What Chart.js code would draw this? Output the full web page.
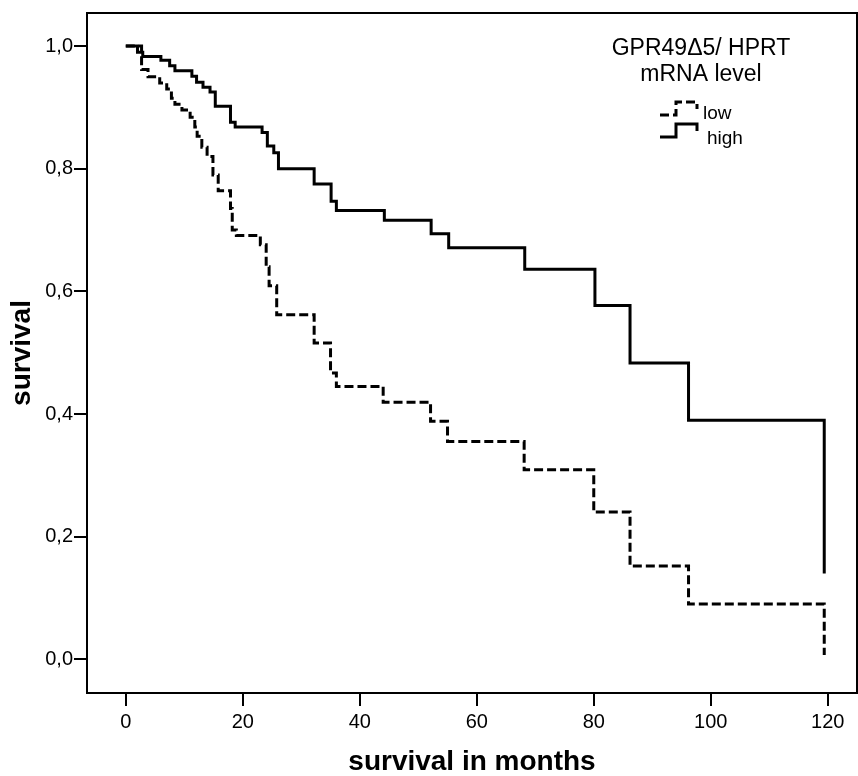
<!DOCTYPE html>
<html lang="en">
<head>
<meta charset="utf-8">
<script src="https://cdn.jsdelivr.net/npm/chart.js"></script>
<style>
  body { margin: 0; background: #fff; }
</style>
</head>
<body>
<canvas id="kmChart" width="858" height="776"></canvas>
<script>
    // Kaplan-Meier steps: month of each event and survival right after it
    const monthsLow = [0, 2.7, 3.8, 5.8, 7.0, 7.8, 8.4, 9.6, 11.0, 11.8, 12.2, 13.0, 13.9, 14.9, 15.8, 17.9, 18.2, 18.9, 23.0, 24.0, 24.5, 25.8, 32.2, 35.0, 36.0, 44.0, 52.1, 55.0, 68.1, 80.0, 86.2, 96.2, 119.4]
    const survivalLow = [1.0, 0.962, 0.950, 0.940, 0.930, 0.915, 0.905, 0.896, 0.884, 0.868, 0.853, 0.835, 0.820, 0.790, 0.764, 0.735, 0.700, 0.691, 0.676, 0.640, 0.609, 0.562, 0.516, 0.467, 0.445, 0.419, 0.388, 0.355, 0.309, 0.240, 0.152, 0.090, 0.007]

    const monthsHigh = [0, 2.0, 2.9, 6.0, 7.5, 8.4, 11.3, 12.1, 13.2, 14.4, 15.3, 17.9, 18.7, 23.3, 24.2, 25.3, 26.1, 32.2, 35.1, 36.0, 44.2, 52.2, 55.2, 68.2, 80.2, 86.2, 96.2, 119.4]
    const survivalHigh = [1.0, 0.990, 0.983, 0.977, 0.968, 0.960, 0.951, 0.941, 0.933, 0.925, 0.902, 0.876, 0.868, 0.859, 0.837, 0.826, 0.800, 0.775, 0.747, 0.732, 0.716, 0.694, 0.671, 0.636, 0.577, 0.483, 0.390, 0.140]

    const xTicks = [0, 20, 40, 60, 80, 100, 120]
    const yTicks = [0, 0.2, 0.4, 0.6, 0.8, 1.0]
    const groupNames = ['low', 'high']
    const legendTitle = ['GPR49Δ5/ HPRT', 'mRNA level']

    const FONT = "'Liberation Sans', Arial, sans-serif"

    function toPoints(xs, ys) {
      return xs.map((x, i) => ({ x: x, y: ys[i] }))
    }

    // box around the plot area (SPSS style)
    const framePlugin = {
      id: 'frame',
      afterDraw(chart) {
        const a = chart.chartArea
        const ctx = chart.ctx
        ctx.save()
        ctx.strokeStyle = '#000'
        ctx.lineWidth = 2
        ctx.strokeRect(a.left, a.top, a.right - a.left, a.bottom - a.top)
        ctx.restore()
      }
    }

    // legend drawn inside the plot, top right
    const legendPlugin = {
      id: 'kmLegend',
      afterDraw(chart) {
        const ctx = chart.ctx
        ctx.save()
        ctx.fillStyle = '#000'
        ctx.strokeStyle = '#000'
        ctx.textAlign = 'center'
        ctx.textBaseline = 'alphabetic'
        ctx.font = '23px ' + FONT
        ctx.fillText(legendTitle[0], 701, 55)
        ctx.fillText(legendTitle[1], 701, 81)

        const iconBottom = [115, 137]
        const textBase = [119, 144]
        const textX = [703, 707]
        ctx.textAlign = 'left'
        ctx.font = '19px ' + FONT
        chart.data.datasets.forEach((ds, i) => {
          const b = iconBottom[i]
          ctx.lineWidth = 3
          ctx.setLineDash(ds.borderDash || [])
          ctx.beginPath()
          ctx.moveTo(660, b)
          ctx.lineTo(676, b)
          ctx.lineTo(676, b - 13)
          ctx.lineTo(697, b - 13)
          ctx.lineTo(697, b - 6)
          ctx.stroke()
          ctx.setLineDash([])
          ctx.fillText(ds.label, textX[i], textBase[i])
        })
        ctx.restore()
      }
    }

    const kmChart = new Chart(document.getElementById('kmChart'), {
      type: 'line',
      data: {
        datasets: [{
          label: groupNames[0],
          data: toPoints(monthsLow, survivalLow),
          borderColor: '#000',
          borderWidth: 3,
          borderDash: [9, 4],
          stepped: true,
          pointRadius: 0,
          fill: false
        }, {
          label: groupNames[1],
          data: toPoints(monthsHigh, survivalHigh),
          borderColor: '#000',
          borderWidth: 3,
          stepped: true,
          pointRadius: 0,
          fill: false
        }]
      },
      options: {
        responsive: false,
        animation: false,
        layout: { padding: { top: 12, right: 1, left: 0, bottom: 0 } },
        plugins: {
          legend: { display: false },
          tooltip: { enabled: false }
        },
        scales: {
          x: {
            type: 'linear',
            min: -6.63,
            max: 125,
            afterBuildTicks: s => { s.ticks = xTicks.map(v => ({ value: v })) },
            afterFit: s => { s.height = 83 },
            grid: { drawOnChartArea: false, drawTicks: true, tickLength: 13, color: '#000', lineWidth: 2 },
            border: { display: true, color: '#000', width: 2 },
            ticks: { color: '#000', font: { family: FONT, size: 20 }, padding: 4, maxRotation: 0 },
            title: {
              display: true,
              text: 'survival in months',
              color: '#000',
              font: { family: FONT, size: 28, weight: 'bold', lineHeight: 1 },
              padding: { top: 0, bottom: 0 }
            }
          },
          y: {
            type: 'linear',
            min: -0.055,
            max: 1.054,
            afterBuildTicks: s => { s.ticks = yTicks.map(v => ({ value: v })) },
            afterFit: s => { s.width = 87 },
            grid: { drawOnChartArea: false, drawTicks: true, tickLength: 13, color: '#000', lineWidth: 2 },
            border: { display: true, color: '#000', width: 2 },
            ticks: {
              color: '#000',
              font: { family: FONT, size: 20 },
              padding: 1,
              callback: v => v.toFixed(1).replace('.', ',')
            },
            title: {
              display: true,
              text: 'survival',
              color: '#000',
              font: { family: FONT, size: 28, weight: 'bold', lineHeight: 1 },
              padding: { top: 8, bottom: 0 }
            }
          }
        }
      },
      plugins: [framePlugin, legendPlugin]
    })
</script>
</body>
</html>
